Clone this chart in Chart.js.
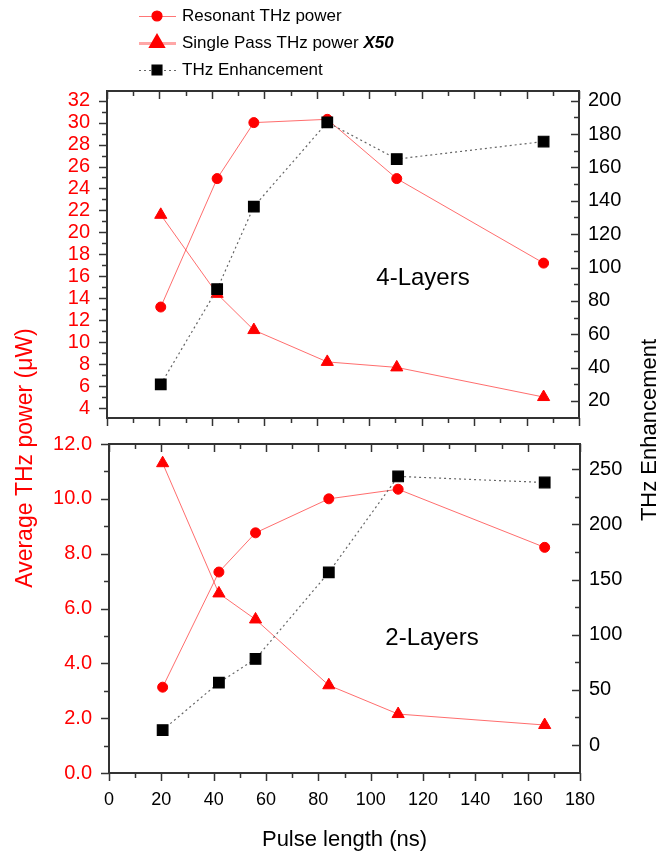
<!DOCTYPE html>
<html>
<head>
<meta charset="utf-8">
<script src="https://cdn.jsdelivr.net/npm/chart.js@4.4.1/dist/chart.umd.min.js"></script>
<style>
  html, body { margin: 0; padding: 0; background: #fff; }
  #wrap { position: relative; width: 668px; height: 853px; }
  #wrap canvas { position: absolute; left: 0; top: 0; }
</style>
</head>
<body>
<div id="wrap">
  <canvas id="top-chart" width="668" height="853"></canvas>
  <canvas id="bottom-chart" width="668" height="853"></canvas>
</div>
<script>
// Pulse length (ns), same for both panels
const pulseLength = [20.5, 42, 56, 84, 110.5, 166.5];

// 4-Layers panel
const resonant4 = [13.2, 24.9, 30.0, 30.3, 24.9, 17.2];
const singlePass4 = [21.6, 14.4, 11.1, 8.2, 7.7, 5.0];
const enhancement4 = [30, 87, 136.5, 187, 165, 175.5];

// 2-Layers panel
const resonant2 = [3.13, 7.33, 8.76, 10.0, 10.35, 8.23];
const singlePass2 = [11.3, 6.55, 5.6, 3.2, 2.15, 1.75];
const enhancement2 = [13.5, 56.5, 78, 156.5, 243.5, 238];

// Tick labels
const xTicks = [0, 20, 40, 60, 80, 100, 120, 140, 160, 180];
const powerTicks4 = [4, 6, 8, 10, 12, 14, 16, 18, 20, 22, 24, 26, 28, 30, 32];
const enhTicks4 = [20, 40, 60, 80, 100, 120, 140, 160, 180, 200];
const powerTicks2 = [0, 2, 4, 6, 8, 10, 12];
const enhTicks2 = [0, 50, 100, 150, 200, 250];

const RED = '#ff0000';
const AXIS = '#333';
Chart.defaults.font.family = "'Liberation Sans', Arial, sans-serif";
Chart.defaults.color = '#000';

function midpoints(arr) {
  return arr.slice(1).map((v, i) => (v + arr[i]) / 2);
}

function points(ys) {
  return pulseLength.map((x, i) => ({ x: x, y: ys[i] }));
}

// frame + inward/outward major and minor ticks
const axisFrame = {
  id: 'axisFrame',
  beforeDatasetsDraw(chart, args, opts) {
    const { ctx, chartArea: a, scales } = chart;
    ctx.save();
    ctx.strokeStyle = AXIS;
    ctx.lineWidth = 2;
    ctx.strokeRect(a.left, a.top, a.right - a.left, a.bottom - a.top);
    ctx.lineWidth = 1.5;

    function vTicks(scale, values, x, len) {
      values.forEach(v => {
        const y = Math.round(scale.getPixelForValue(v)) + 0.5;
        ctx.beginPath(); ctx.moveTo(x, y); ctx.lineTo(x + len, y); ctx.stroke();
      });
    }
    function hTicks(scale, values, y, len) {
      values.forEach(v => {
        const x = Math.round(scale.getPixelForValue(v)) + 0.5;
        ctx.beginPath(); ctx.moveTo(x, y); ctx.lineTo(x, y + len); ctx.stroke();
      });
    }
    const major = 8, minor = 5;
    hTicks(scales.x, xTicks, a.bottom, major);
    hTicks(scales.x, midpoints(xTicks), a.bottom, minor);
    hTicks(scales.x, xTicks, a.top, major);
    hTicks(scales.x, midpoints(xTicks), a.top, minor);
    vTicks(scales.y, opts.left, a.left, -major);
    vTicks(scales.y, midpoints(opts.left), a.left, -minor);
    vTicks(scales.y2, opts.right, a.right, -major);
    vTicks(scales.y2, midpoints(opts.right), a.right, -minor);

    ctx.fillStyle = '#000';
    ctx.font = "24px 'Liberation Sans', Arial, sans-serif";
    ctx.textAlign = 'center';
    ctx.textBaseline = 'middle';
    ctx.fillText(opts.label, opts.labelX, opts.labelY);
    ctx.restore();
  }
};

function drawMarker(ctx, style, radius, x, y) {
  if (Chart.helpers && Chart.helpers.drawPoint) {
    Chart.helpers.drawPoint(ctx, { pointStyle: style, radius: radius, rotation: 0, borderWidth: 1 }, x, y);
  }
}

// legend and the two shared axis titles
const sharedText = {
  id: 'sharedText',
  afterDraw(chart) {
    const ctx = chart.ctx;
    ctx.save();
    const rows = [
      { text: 'Resonant THz power', style: 'circle', r: 5, color: RED, line: 'rgba(255,60,60,0.7)', dash: [] },
      { text: 'Single Pass THz power ', extra: 'X50', style: 'triangle', r: 7, color: RED, line: 'rgba(255,60,60,0.45)', dash: [] },
      { text: 'THz Enhancement', style: 'rect', r: 7, color: '#000', line: '#666', dash: [2, 3] }
    ];
    rows.forEach((row, i) => {
      const y = 16 + i * 27;
      ctx.strokeStyle = row.line;
      ctx.lineWidth = i === 1 ? 3 : 1.2;
      ctx.setLineDash(row.dash);
      ctx.beginPath(); ctx.moveTo(139, y + 0.5); ctx.lineTo(176, y + 0.5); ctx.stroke();
      ctx.setLineDash([]);
      ctx.fillStyle = row.color;
      ctx.strokeStyle = row.color;
      drawMarker(ctx, row.style, row.r, 157, y);
      ctx.fillStyle = '#000';
      ctx.textAlign = 'left';
      ctx.textBaseline = 'middle';
      ctx.font = "17px 'Liberation Sans', Arial, sans-serif";
      ctx.fillText(row.text, 182, y);
      if (row.extra) {
        const w = ctx.measureText(row.text).width;
        ctx.font = "italic bold 17px 'Liberation Sans', Arial, sans-serif";
        ctx.fillText(row.extra, 182 + w, y);
      }
    });

    ctx.textAlign = 'center';
    ctx.textBaseline = 'middle';
    ctx.translate(26, 458);
    ctx.rotate(-Math.PI / 2);
    ctx.fillStyle = RED;
    ctx.font = "23px 'Liberation Sans', Arial, sans-serif";
    ctx.fillText('Average THz power (\u03bcW)', 0, 0);
    ctx.restore();

    ctx.save();
    ctx.translate(650, 430);
    ctx.rotate(-Math.PI / 2);
    ctx.textAlign = 'center';
    ctx.textBaseline = 'middle';
    ctx.fillStyle = '#000';
    ctx.font = "22px 'Liberation Sans', Arial, sans-serif";
    ctx.fillText('THz Enhancement', 0, 0);
    ctx.restore();
  }
};

function makePanel(canvasId, cfg) {
  return new Chart(document.getElementById(canvasId), {
    type: 'line',
    data: {
      datasets: [{
        label: 'Resonant THz power',
        data: points(cfg.resonant),
        yAxisID: 'y',
        borderColor: 'rgba(255,60,60,0.75)',
        borderWidth: 1,
        pointStyle: 'circle',
        pointRadius: 5,
        pointBackgroundColor: RED,
        pointBorderColor: RED,
        order: 2
      }, {
        label: 'Single Pass THz power X50',
        data: points(cfg.single),
        yAxisID: 'y',
        borderColor: 'rgba(255,60,60,0.75)',
        borderWidth: 1,
        pointStyle: 'triangle',
        pointRadius: 7,
        pointBackgroundColor: RED,
        pointBorderColor: RED,
        order: 1
      }, {
        label: 'THz Enhancement',
        data: points(cfg.enhancement),
        yAxisID: 'y2',
        borderColor: '#666',
        borderWidth: 1.2,
        borderDash: [2, 3],
        pointStyle: 'rect',
        pointRadius: 7.5,
        pointBackgroundColor: '#000',
        pointBorderColor: '#000',
        order: 0
      }]
    },
    options: {
      responsive: false,
      animation: false,
      devicePixelRatio: 1,
      layout: { padding: { top: cfg.top, left: 0, right: 0, bottom: 0 } },
      plugins: {
        legend: { display: false },
        tooltip: { enabled: false },
        axisFrame: { left: cfg.leftTicks, right: cfg.rightTicks, label: cfg.label, labelX: cfg.labelX, labelY: cfg.labelY }
      },
      scales: {
        x: {
          type: 'linear',
          position: 'bottom',
          min: 0,
          max: 180,
          grid: { display: false, drawTicks: false },
          border: { display: false },
          ticks: { display: cfg.showX, autoSkip: false, color: '#000', font: { size: 18 }, padding: 16 },
          afterBuildTicks: s => { s.ticks = xTicks.map(v => ({ value: v })); },
          afterFit: s => { s.height = 853 - cfg.bottom; },
          title: {
            display: cfg.showX,
            text: 'Pulse length (ns)',
            color: '#000',
            font: { size: 22 },
            padding: { top: 0, bottom: 0 }
          }
        },
        y: {
          type: 'linear',
          position: 'left',
          min: cfg.leftMin,
          max: cfg.leftMax,
          grid: { display: false, drawTicks: false },
          border: { display: false },
          ticks: { autoSkip: false, color: RED, font: { size: 20 }, padding: 17, callback: cfg.leftFormat },
          afterBuildTicks: s => { s.ticks = cfg.leftTicks.map(v => ({ value: v })); },
          afterFit: s => { s.width = cfg.left; }
        },
        y2: {
          type: 'linear',
          position: 'right',
          min: cfg.rightMin,
          max: cfg.rightMax,
          grid: { display: false, drawTicks: false },
          border: { display: false },
          ticks: { autoSkip: false, color: '#000', font: { size: 20 }, padding: 9 },
          afterBuildTicks: s => { s.ticks = cfg.rightTicks.map(v => ({ value: v })); },
          afterFit: s => { s.width = 668 - cfg.right; }
        }
      }
    },
    plugins: cfg.shared ? [axisFrame, sharedText] : [axisFrame]
  });
}

makePanel('top-chart', {
  resonant: resonant4, single: singlePass4, enhancement: enhancement4,
  top: 91, bottom: 418, left: 107, right: 579,
  leftMin: 3.09, leftMax: 32.88, rightMin: 9.8, rightMax: 205.8,
  leftTicks: powerTicks4, rightTicks: enhTicks4,
  leftFormat: v => v,
  showX: false, shared: true,
  label: '4-Layers', labelX: 423, labelY: 278
});

makePanel('bottom-chart', {
  resonant: resonant2, single: singlePass2, enhancement: enhancement2,
  top: 444, bottom: 773, left: 109, right: 580,
  leftMin: 0, leftMax: 12, rightMin: -25.4, rightMax: 272.9,
  leftTicks: powerTicks2, rightTicks: enhTicks2,
  leftFormat: v => Number(v).toFixed(1),
  showX: true, shared: false,
  label: '2-Layers', labelX: 432, labelY: 638
});
</script>
</body>
</html>
